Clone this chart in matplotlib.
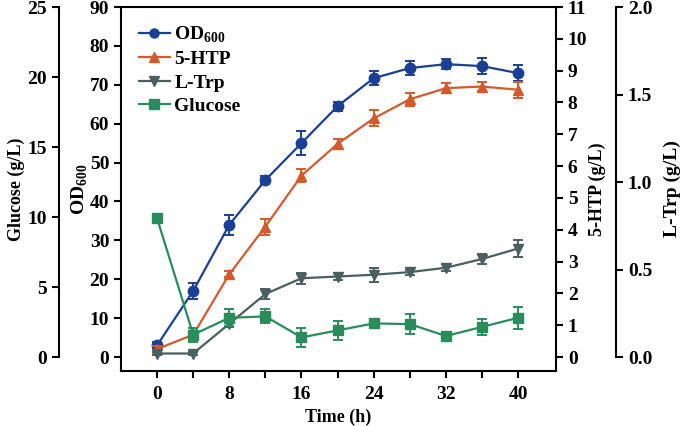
import numpy as np
import matplotlib
matplotlib.use("Agg")
import matplotlib.pyplot as plt
from matplotlib.lines import Line2D

plt.rcParams['font.family'] = ['Liberation Serif', 'DejaVu Serif']
plt.rcParams['font.weight'] = 'bold'
plt.rcParams['mathtext.fontset'] = 'custom'
plt.rcParams['mathtext.rm'] = 'Liberation Serif:bold'
plt.rcParams['mathtext.bf'] = 'Liberation Serif:bold'

time = [0, 4, 8, 12, 16, 20, 24, 28, 32, 36, 40]
od600 = [3, 17, 34, 45.5, 55, 64.5, 71.7, 74.3, 75.3, 74.8, 73]
od600_err = [0.8, 2, 2.5, 1, 3, 1.2, 1.8, 1.8, 1.3, 2, 2]
htp = [0.25, 0.7, 2.6, 4.1, 5.7, 6.7, 7.5, 8.1, 8.45, 8.5, 8.4]
htp_err = [0.1, 0.1, 0.1, 0.25, 0.2, 0.15, 0.25, 0.2, 0.15, 0.15, 0.25]
trp = [0.02, 0.02, 0.19, 0.36, 0.45, 0.46, 0.47, 0.485, 0.51, 0.56, 0.62]
trp_err = [0.01, 0.01, 0.02, 0.03, 0.03, 0.02, 0.04, 0.015, 0.02, 0.03, 0.05]
glucose = [9.9, 1.6, 2.8, 2.9, 1.4, 1.9, 2.4, 2.35, 1.5, 2.15, 2.8]
glucose_err = [0, 0.5, 0.6, 0.5, 0.7, 0.7, 0.3, 0.7, 0.3, 0.6, 0.8]
xtick_labels = ['0', '', '8', '', '16', '', '24', '', '32', '', '40']

c_od = '#1b3f95'
c_htp = '#d45a2c'
c_trp = '#4b5f60'
c_glu = '#2a8c5c'

fig = plt.figure(figsize=(6.85, 4.26), dpi=100)
W, H = 685, 426
x0, x1, y0, y1 = 121, 556, 7, 371
ax = fig.add_axes([x0 / W, (H - y1) / H, (x1 - x0) / W, (y1 - y0) / H])

lw = 1.6
ticksz = 14
labsz = 13

# OD600 (main axis)
ax.set_xlim(-4, 44.2)
ax.set_ylim(-3.6, 90)
ax.set_yticks(np.arange(0, 91, 10))
ax.set_xticks(time)
ax.set_xticklabels(xtick_labels)
ax.tick_params(direction='out', length=5, width=1.5, labelsize=ticksz)
ax.tick_params(axis='x', pad=6)
for s in ax.spines.values():
    s.set_linewidth(1.5)
ax.spines['right'].set_visible(False)
ax.set_xlabel('Time (h)', fontsize=labsz, fontweight='bold', labelpad=4)
ax.set_ylabel('OD$_{600}$', fontsize=14, fontweight='bold', labelpad=0)

# 5-HTP
ax2 = ax.twinx()
ax2.set_ylim(-0.44, 11)
ax2.set_yticks(range(0, 12))
for k in ['top', 'left', 'bottom']:
    ax2.spines[k].set_visible(False)
ax2.spines['right'].set_linewidth(1.5)
ax2.tick_params(direction='out', length=5, width=1.5, labelsize=ticksz)
ax2.set_ylabel('5-HTP (g/L)', fontsize=labsz, fontweight='bold', labelpad=1)

# L-Trp
ax3 = ax.twinx()
ax3.set_ylim(-0.08, 2.0)
ax3.set_yticks([0, 0.5, 1.0, 1.5, 2.0])
ax3.set_yticklabels(['0.0', '0.5', '1.0', '1.5', '2.0'])
for k in ['top', 'left', 'bottom']:
    ax3.spines[k].set_visible(False)
ax3.spines['right'].set_position(('axes', (616 - x0) / (x1 - x0)))
ax3.spines['right'].set_bounds(0, 2.0)
ax3.spines['right'].set_linewidth(1.5)
ax3.tick_params(direction='out', length=5, width=1.5, labelsize=ticksz)
ax3.set_ylabel('L-Trp (g/L)', fontsize=14, fontweight='bold', labelpad=8)

# Glucose
ax4 = ax.twinx()
ax4.set_ylim(-1.0, 25)
ax4.set_yticks(range(0, 26, 5))
for k in ['top', 'right', 'bottom']:
    ax4.spines[k].set_visible(False)
ax4.spines['left'].set_visible(True)
ax4.spines['left'].set_position(('axes', (59 - x0) / (x1 - x0)))
ax4.spines['left'].set_bounds(0, 25)
ax4.spines['left'].set_linewidth(1.5)
ax4.yaxis.set_ticks_position('left')
ax4.yaxis.set_label_position('left')
ax4.tick_params(direction='out', length=5, width=1.5, labelsize=ticksz)
ax4.set_ylabel('Glucose (g/L)', fontsize=labsz, fontweight='bold', labelpad=2)

kw = dict(capsize=3.5, elinewidth=1.4, capthick=1.4, lw=lw, markersize=7.5)
ax.errorbar(time, od600, yerr=od600_err, color=c_od, marker='o', **kw)
ax2.errorbar(time, htp, yerr=htp_err, color=c_htp, marker='^', **kw)
ax3.errorbar(time, trp, yerr=trp_err, color=c_trp, marker='v', **kw)
ax4.errorbar(time, glucose, yerr=glucose_err, color=c_glu, marker='s', **kw)

handles = [Line2D([], [], color=c, marker=m, lw=lw, markersize=6.5)
           for c, m in [(c_od, 'o'), (c_htp, '^'), (c_trp, 'v'), (c_glu, 's')]]
ax4.legend(handles, ['OD$_{600}$', '5-HTP', 'L-Trp', 'Glucose'],
           loc='upper left', bbox_to_anchor=(0.0, 1.0), frameon=False,
           fontsize=14, handlelength=1.6, handletextpad=0.25,
           labelspacing=0.3, borderaxespad=0.5)

fig.savefig('out.png', dpi=100)
